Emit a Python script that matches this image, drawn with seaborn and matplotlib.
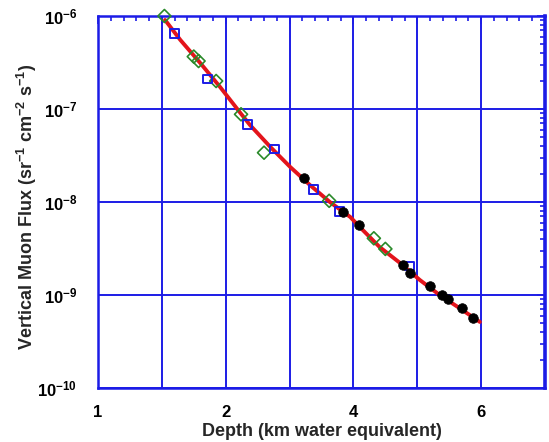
import matplotlib
matplotlib.use("Agg")
import matplotlib.pyplot as plt
import seaborn as sns
from matplotlib.ticker import MultipleLocator, LogLocator, NullFormatter

# Fitted depth-intensity relation (km w.e., cm^-2 s^-1 sr^-1)
depth_fit = [1.05, 1.29, 1.60, 1.91, 2.23, 2.38, 2.70, 3.01, 3.32, 3.63,
             3.95, 4.10, 4.41, 4.73, 5.04, 5.35, 5.66, 5.98]
flux_fit = [9.06e-7, 5.52e-7, 3.13e-7, 1.73e-7, 9.06e-8, 6.73e-8, 3.90e-8,
            2.38e-8, 1.52e-8, 1.00e-8, 6.90e-9, 5.38e-9, 3.28e-9, 2.21e-9,
            1.45e-9, 1.00e-9, 7.24e-10, 5.13e-10]

# Measurements, set A (open diamonds)
depth_a = [1.04, 1.50, 1.575, 1.85, 2.24, 2.60, 3.62, 4.32, 4.50]
flux_a = [1.0e-6, 3.66e-7, 3.28e-7, 2.0e-7, 8.77e-8, 3.39e-8, 1.03e-8,
          4.07e-9, 3.13e-9]

# Measurements, set B (open squares)
depth_b = [1.20, 1.71, 2.34, 2.76, 3.37, 3.78, 4.88]
flux_b = [6.52e-7, 2.10e-7, 6.84e-8, 3.72e-8, 1.35e-8, 7.87e-9, 2.05e-9]

# Measurements, set C (filled circles)
depth_c = [3.22, 3.84, 4.09, 4.77, 4.89, 5.20, 5.38, 5.48, 5.70, 5.88]
flux_c = [1.80e-8, 7.87e-9, 5.66e-9, 2.10e-9, 1.74e-9, 1.25e-9, 1.0e-9,
          9.0e-10, 7.19e-10, 5.62e-10]

x_tick_pos = [0, 1, 2, 3, 4, 5, 6, 7]
x_tick_labels = ["1", "", "2", "", "4", "", "6", ""]
y_tick_pos = [1e-10, 1e-9, 1e-8, 1e-7, 1e-6]
y_tick_labels = ["$10^{-10}$", "$10^{-9}$", "$10^{-8}$", "$10^{-7}$", "$10^{-6}$"]

BLUE = "#1c1ce6"
RED = "#e3141b"
GREEN = "#2a8a2a"

sns.set_style("white")
plt.rcParams["font.family"] = ["Liberation Sans", "DejaVu Sans"]
plt.rcParams["font.weight"] = "bold"
plt.rcParams["mathtext.fontset"] = "custom"
plt.rcParams["mathtext.rm"] = "Liberation Sans:bold"
plt.rcParams["mathtext.it"] = "Liberation Sans:bold"
plt.rcParams["mathtext.bf"] = "Liberation Sans:bold"
plt.rcParams["mathtext.default"] = "rm"

fig = plt.figure(figsize=(5.49, 4.42), dpi=100)
ax = fig.add_axes([98 / 549, 1 - 388 / 442, (545 - 98) / 549, (388 - 16) / 442])

sns.lineplot(x=depth_fit, y=flux_fit, color=RED, linewidth=2.8, ax=ax,
             zorder=3)
sns.scatterplot(x=depth_a, y=flux_a, marker="D", s=44, facecolors="none",
                edgecolors=GREEN, linewidths=1.2, ax=ax, zorder=4,
                clip_on=False)
sns.scatterplot(x=depth_b, y=flux_b, marker="s", s=40, facecolors="none",
                edgecolors=BLUE, linewidths=1.4, ax=ax, zorder=4,
                clip_on=False)
sns.scatterplot(x=depth_c, y=flux_c, marker="o", s=48, color="black",
                edgecolor="black", linewidth=0.5, ax=ax, zorder=5,
                clip_on=False)

ax.set_yscale("log")
ax.set_xlim(0, 7)
ax.set_ylim(1e-10, 1e-6)

ax.set_xticks(x_tick_pos)
ax.set_xticklabels(x_tick_labels)
ax.xaxis.set_minor_locator(MultipleLocator(0.2))
ax.set_yticks(y_tick_pos)
ax.set_yticklabels(y_tick_labels)
ax.yaxis.set_minor_locator(LogLocator(base=10, subs=range(2, 10)))
ax.yaxis.set_minor_formatter(NullFormatter())

ax.grid(True, which="major", color=BLUE, linewidth=1.4)
ax.set_axisbelow(True)
for side, sp in ax.spines.items():
    sp.set_color(BLUE)
    sp.set_linewidth(1.8)
ax.spines["right"].set_linewidth(2.6)

ax.tick_params(which="both", direction="in", top=True, right=True,
               color=BLUE, width=1.2, labelcolor="black")
ax.tick_params(which="major", length=6, labelsize=12)
ax.tick_params(which="minor", length=3.8)
ax.tick_params(axis="x", which="major", pad=12)
ax.tick_params(axis="y", which="major", pad=15)

ax.set_xlabel("Depth (km water equivalent)", fontsize=13, fontweight="bold")
ax.xaxis.set_label_coords(0.5, -0.095)
ax.set_ylabel("Vertical Muon Flux (sr$^{-1}$ cm$^{-2}$ s$^{-1}$)",
              fontsize=13, fontweight="bold")
ax.yaxis.set_label_coords(-0.131, 0.487)

fig.savefig("out.png", dpi=100, facecolor="white")
